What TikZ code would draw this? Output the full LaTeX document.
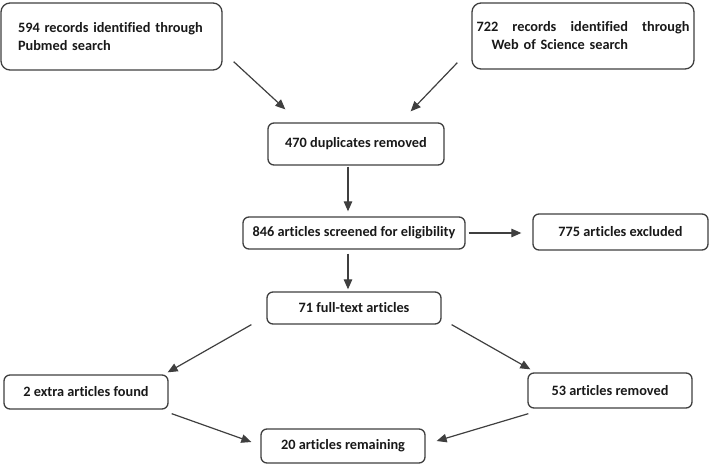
\documentclass[tikz,border=0pt]{standalone}
\usepackage{fontspec}
\setmainfont{Carlito}[Ligatures={TeX,NoCommon}]
\usetikzlibrary{arrows.meta}
\definecolor{linegrey}{HTML}{3F3F3F}

\begin{document}
\begin{tikzpicture}[x=1pt,y=-1pt,
  box/.style={draw=linegrey,line width=1.3pt,rounded corners=6pt,inner sep=0pt,
    font=\fontsize{14.3}{18}\selectfont\bfseries,text=black!90},
  flow/.style={draw=linegrey,line width=1.2pt,-{Triangle[length=10pt,width=8.5pt]}}]
\useasboundingbox (0,0) rectangle (710,464);
% records
\node[box,rounded corners=9pt,minimum width=221pt,minimum height=67pt,text width=187pt,align=left] (pubmed) at (111.5,36.5)
  {594 records identified through\\Pubmed search};
\node[box,rounded corners=9pt,minimum width=222pt,minimum height=66pt,text width=213pt,align=left] (wos) at (583,36)
  {\hbox to 213pt{722\hfill records\hfill identified\hfill through}\\\hspace*{15pt}Web of Science search};
% screening
\node[box,minimum width=176pt,minimum height=42pt] (dup) at (356,144) {470 duplicates removed};
\node[box,minimum width=222pt,minimum height=32pt] (screen) at (354,233) {846 articles screened for eligibility};
\node[box,minimum width=175pt,minimum height=36pt] (excl) at (620.5,232) {775 articles excluded};
\node[box,minimum width=174pt,minimum height=32pt] (full) at (354,308) {71 full-text articles};
% final
\node[box,minimum width=164pt,minimum height=34pt] (extra) at (86,392) {2 extra articles found};
\node[box,minimum width=164pt,minimum height=35pt] (removed) at (610,390.5) {53 articles removed};
\node[box,minimum width=164pt,minimum height=34pt] (remain) at (343,446) {20 articles remaining};

\draw[flow] ([shift={(11,-9)}]pubmed.south east) -- ([shift={(18,-13)}]dup.north west);
\draw[flow] ([shift={(-14,-7)}]wos.south west) -- ([shift={(-34,-11)}]dup.north east);
\draw[flow] ([shift={(-8,1)}]dup.south) -- ([shift={(-6,-5)}]screen.north);
\draw[flow] ([shift={(3,0)}]screen.east) -- ([shift={(-11,1)}]excl.west);
\draw[flow] ([shift={(-6,4)}]screen.south) -- ([shift={(-6,-2)}]full.north);
\draw[flow] ([shift={(-15,0)}]full.south west) -- ([shift={(-1,-2)}]extra.north east);
\draw[flow] ([shift={(10,0)}]full.south east) -- ([shift={(3,-3)}]removed.north west);
\draw[flow] ([shift={(3,4)}]extra.south east) -- ([shift={(-9,-4)}]remain.west);
\draw[flow] ([shift={(1,5)}]removed.south west) -- ([shift={(11,-5)}]remain.east);
\end{tikzpicture}
\end{document}
